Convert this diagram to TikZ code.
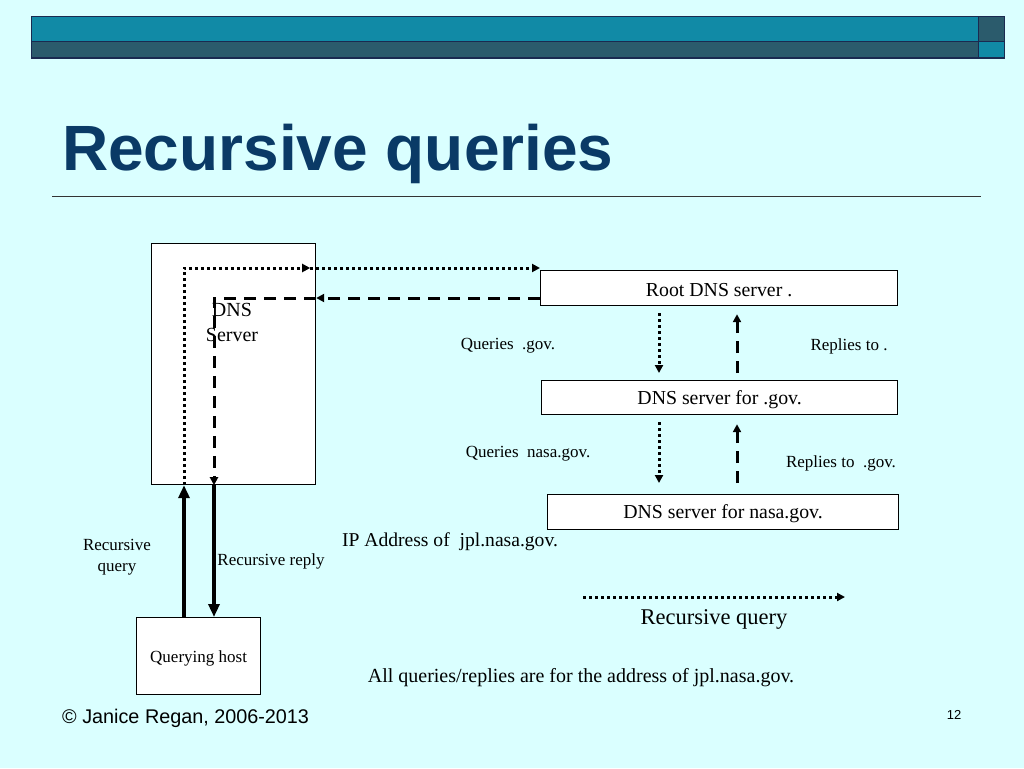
\documentclass[tikz,border=0pt]{standalone}
\usepackage{fontspec}
\setmainfont{Liberation Serif}
\newfontfamily\arialf{Liberation Sans}
\usetikzlibrary{arrows.meta}
\definecolor{bg}{HTML}{DAFFFF}
\definecolor{barA}{HTML}{118AA6}
\definecolor{barB}{HTML}{2B5B6C}
\definecolor{barline}{HTML}{1A2A50}
\definecolor{navy}{HTML}{0A3A66}
\begin{document}
\begin{tikzpicture}[x=1pt,y=-1pt,
  box/.style={draw=black,fill=white,line width=1.2pt,inner sep=0pt,anchor=north west,font=\fontsize{19.8}{22}\selectfont},
  boxtxt/.style={inner sep=0pt},
  lbl/.style={inner sep=0pt,align=center,yshift=-2pt},
  small/.style={font=\fontsize{17}{20}\selectfont},
  dotl/.style={line width=3pt,dash pattern=on 3pt off 3pt},
  dashl/.style={line width=3pt,dash pattern=on 12pt off 8pt},
  thickl/.style={line width=4.5pt},
  tip/.style={-{Triangle[width=8pt,length=8pt]}},
  bigtip/.style={-{Triangle[width=11pt,length=13pt]}}
]
\useasboundingbox[fill=bg] (0,0) rectangle (1024,768);
% header bars
\fill[barA] (31,17) rectangle (978,42);
\fill[barB] (31,42) rectangle (978,58);
\fill[barB] (978,17) rectangle (1004,42);
\fill[barA] (978,42) rectangle (1004,58);
\draw[barline,line width=1pt] (31,17) rectangle (1004,58);
\draw[barline,line width=1pt] (31,42) -- (1004,42);
\draw[barline,line width=1pt] (978,17) -- (978,58);
% title
\node[anchor=base west,inner sep=0pt,text=navy,font=\arialf\bfseries\fontsize{64}{70}\selectfont] (title) at (62,170) {Recursive queries};
\draw[black!80,line width=1pt] (52,196) -- (981,196);
% boxes
\node[box,minimum width=164pt,minimum height=241pt] (dns) at (151,243) {};
\node[lbl,font=\fontsize{20}{25}\selectfont] (dnslbl) at (232,320) {DNS\\Server};
\node[box,minimum width=357pt,minimum height=35pt] (root) at (540,270) {};
\node[box,minimum width=356pt,minimum height=34pt] (gov) at (541,380) {};
\node[box,minimum width=351pt,minimum height=35pt] (nasa) at (547,494) {};
\node[box,minimum width=124pt,minimum height=77pt] (qh) at (136,617) {};
\node[lbl,font=\fontsize{19.8}{22}\selectfont] (roott) at (root.center) {Root DNS server .};
\node[lbl,font=\fontsize{19.8}{22}\selectfont] (govt) at (gov.center) {DNS server for .gov.};
\node[lbl,font=\fontsize{19.8}{22}\selectfont] (nasat) at (nasa.center) {DNS server for nasa.gov.};
\node[lbl,small] (qht) at (qh.center) {Querying host};
% helper coordinates
\coordinate (cq) at (184,268);
\coordinate (cr) at (214,298);
\coordinate (cd) at (659,0);
\coordinate (cu) at (737,0);
\coordinate (l1) at (583,597);
\coordinate (l2) at (845,597);
% recursive query path (dotted)
\draw[thickl,bigtip] (qh.north -| cq) -- (dns.south -| cq);
\draw[dotl,tip] (dns.south -| cq) -- (cq) -- ([xshift=-6pt]dns.east |- cq);
\draw[dotl,tip] ([xshift=-6pt]dns.east |- cq) -- (root.west |- cq);
% reply path (dashed)
\draw[dashl,tip] (root.west |- cr) -- (dns.east |- cr);
\draw[dashl,tip] (dns.east |- cr) -- (cr) -- (dns.south -| cr);
\draw[thickl,bigtip] (dns.south -| cr) -- (qh.north -| cr);
% between servers
\draw[dotl,tip,shorten <=7pt,shorten >=7pt] (root.south -| cd) -- (gov.north -| cd);
\draw[dashl,tip,shorten <=7pt,shorten >=8pt] (gov.north -| cu) -- (root.south -| cu);
\draw[dotl,tip,shorten <=7pt,shorten >=11pt] (gov.south -| cd) -- (nasa.north -| cd);
\draw[dashl,tip,shorten <=11pt,shorten >=9pt] (nasa.north -| cu) -- (gov.south -| cu);
% legend
\draw[dotl,tip] (l1) -- (l2);
% labels
\node[lbl,small] (q1) at (508,344) {Queries\ \ .gov.};
\node[lbl,small] (r1) at (849,344) {Replies to .};
\node[lbl,small] (q2) at (528,452) {Queries\ \ nasa.gov.};
\node[lbl,small] (r2) at (841,461) {Replies to\ \ .gov.};
\node[lbl,font=\fontsize{19.6}{22}\selectfont] (ip) at (450,540) {IP Address of\ \ jpl.nasa.gov.};
\node[lbl,font=\fontsize{17}{21}\selectfont] (rq) at (117,555) {Recursive\\query};
\node[lbl,small] (rr) at (271,559) {Recursive reply};
\node[lbl,font=\fontsize{22.5}{26}\selectfont] (legq) at (714,617) {Recursive query};
\node[lbl,font=\fontsize{20}{22}\selectfont] (all) at (581,676) {All queries/replies are for the address of jpl.nasa.gov.};
% footer
\node[anchor=west,inner sep=0pt,font=\arialf\fontsize{19.8}{22}\selectfont] (foot) at (62,718) {© Janice Regan, 2006-2013};
\node[lbl,font=\arialf\fontsize{13}{15}\selectfont] (pg) at (954,713) {12};
\end{tikzpicture}
\end{document}
